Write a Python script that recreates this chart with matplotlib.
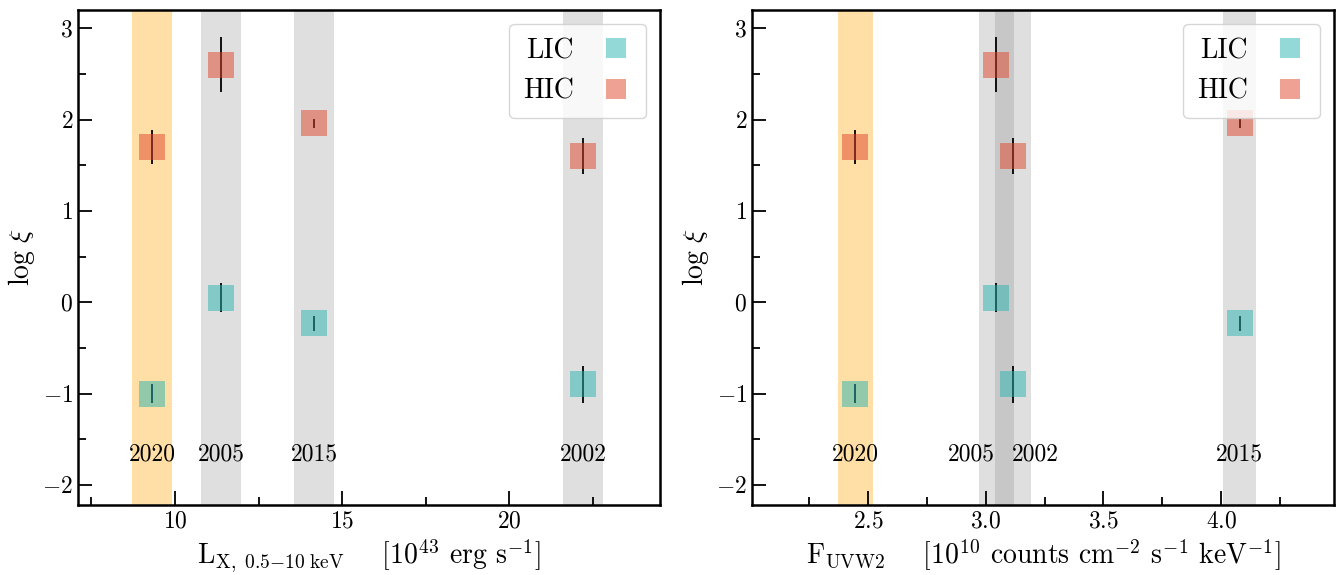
import matplotlib
matplotlib.use('Agg')
import matplotlib.pyplot as plt

plt.rcParams['font.family'] = 'serif'
plt.rcParams['font.serif'] = ['cmr10']
plt.rcParams['mathtext.fontset'] = 'cm'
plt.rcParams['axes.formatter.use_mathtext'] = True

# epochs and measurements
years = ['2020', '2005', '2015', '2002']
lx = [9.31, 11.38, 14.16, 22.2]
lx_err = [0.6, 0.6, 0.6, 0.6]
fuv = [2.445, 3.045, 4.08, 3.115]
fuv_err = [0.075, 0.075, 0.07, 0.075]
lic = [-1.0, 0.05, -0.23, -0.9]
lic_err = [0.1, 0.16, 0.08, 0.2]
hic = [1.7, 2.6, 1.96, 1.6]
hic_err = [0.19, 0.3, 0.05, 0.2]

lab_x_left = [9.31, 11.38, 14.16, 22.2]
lab_x_right = [2.445, 2.94, 4.08, 3.21]

lic_col = '#26b4b0'
hic_col = '#e0452a'


def draw_panel(ax, x, xerr, lab_x, xlabel):
    for i in range(len(x)):
        c = 'orange' if years[i] == '2020' else 'grey'
        a = 0.35 if years[i] == '2020' else 0.25
        ax.axvspan(x[i] - xerr[i], x[i] + xerr[i], color=c, alpha=a, lw=0, zorder=0)
        ax.text(lab_x[i], -1.67, years[i], ha='center', va='center', fontsize=17)
    ax.errorbar(x, lic, yerr=lic_err, fmt='none', ecolor='k', elinewidth=1.3, zorder=2)
    ax.errorbar(x, hic, yerr=hic_err, fmt='none', ecolor='k', elinewidth=1.3, zorder=2)
    ax.plot(x, lic, 's', color=lic_col, alpha=0.5, ms=19, mew=0, label='LIC', zorder=3)
    ax.plot(x, hic, 's', color=hic_col, alpha=0.5, ms=19, mew=0, label='HIC', zorder=3)
    ax.set_ylim(-2.22, 3.2)
    ax.set_yticks([-2, -1, 0, 1, 2, 3])
    ax.set_yticks([-1.5, -0.5, 0.5, 1.5, 2.5], minor=True)
    ax.set_ylabel(r'$\log\,\xi$', fontsize=20)
    ax.set_xlabel(xlabel, fontsize=20)
    ax.tick_params(which='both', direction='in', labelsize=17, width=1.3)
    ax.tick_params(which='major', length=10)
    ax.tick_params(which='minor', length=6)
    for s in ax.spines.values():
        s.set_linewidth(1.8)
    leg = ax.legend(loc='upper right', markerfirst=False, fontsize=20, frameon=True,
                    framealpha=0.8, edgecolor='#cccccc', handletextpad=0.9,
                    borderpad=0.5, labelspacing=0.5, handlelength=1.2)
    for h in leg.legend_handles:
        h.set_markersize(14)


fig = plt.figure(figsize=(13.39, 5.75), dpi=100)
ax1 = fig.add_axes([0.0583, 0.1217, 0.4346, 0.861])
ax2 = fig.add_axes([0.5616, 0.1217, 0.4347, 0.861])

draw_panel(ax1, lx, lx_err, lab_x_left,
           r'L$_{\rm X,\ 0.5{-}10\ keV}$    [10$^{43}$ erg s$^{-1}$]')
ax1.set_xlim(7.1, 24.5)
ax1.set_xticks([10, 15, 20])
ax1.set_xticks([7.5, 12.5, 17.5, 22.5], minor=True)

draw_panel(ax2, fuv, fuv_err, lab_x_right,
           r'F$_{\rm UVW2}$    [10$^{10}$ counts cm$^{-2}$ s$^{-1}$ keV$^{-1}$]')
ax2.set_xlim(2.006, 4.48)
ax2.set_xticks([2.5, 3.0, 3.5, 4.0])
ax2.set_xticks([2.25, 2.75, 3.25, 3.75, 4.25], minor=True)

fig.savefig('out.png', dpi=100)
